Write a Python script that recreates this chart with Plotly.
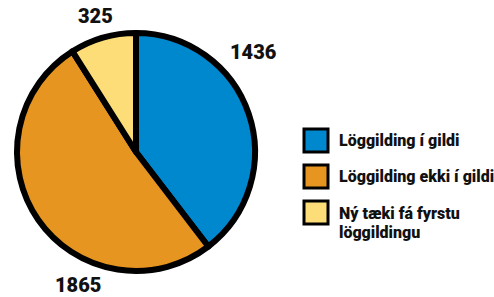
import plotly.graph_objects as go

labels = ["Löggilding í gildi", "Löggilding ekki í gildi", "Ný tæki fá fyrstu<br>löggildingu"]
values = [1436, 1865, 325]
colors = ["#0088CE", "#E69521", "#FCDD78"]

W, H = 494, 297
FONT = "Roboto, Liberation Sans, sans-serif"

def px(x):
    return x / W

def py(y):
    return 1 - y / H

fig = go.Figure(go.Pie(
    labels=labels, values=values, sort=False, direction="clockwise", rotation=0,
    marker=dict(colors=colors, line=dict(color="black", width=6)),
    textinfo="none", hoverinfo="label+value", showlegend=False,
    domain=dict(x=[px(17), px(255)], y=[py(271), py(33)]),
))

# value labels
label_pos = [(254, 52), (78, 285), (95, 16)]
annotations = []
for v, (x, y) in zip(values, label_pos):
    annotations.append(dict(x=px(x), y=py(y), xref="paper", yref="paper", text=str(v),
                            showarrow=False, xanchor="center", yanchor="middle",
                            font=dict(family=FONT, size=20, weight=900, color="#111")))

# custom legend
shapes = []
box_tops = [128, 164, 200]
for lab, col, top in zip(labels, colors, box_tops):
    shapes.append(dict(type="rect", xref="paper", yref="paper",
                       x0=px(304), x1=px(328), y0=py(top + 1), y1=py(top + 24),
                       fillcolor=col, line=dict(color="black", width=3)))
    for k, line in enumerate(lab.split("<br>")):
        annotations.append(dict(x=px(337), y=py(top + 13 + 19.5 * k), xref="paper", yref="paper",
                                text=line, showarrow=False, xanchor="left", yanchor="middle",
                                align="left",
                                font=dict(family=FONT, size=16, weight=900, color="#111")))

fig.update_layout(width=W, height=H, margin=dict(l=0, r=0, t=0, b=0),
                  paper_bgcolor="white", plot_bgcolor="white",
                  shapes=shapes, annotations=annotations, showlegend=False)

fig.write_html("out.html", config={"displayModeBar": False},
               post_script="document.body.style.margin='0';document.body.style.overflow='hidden';")
